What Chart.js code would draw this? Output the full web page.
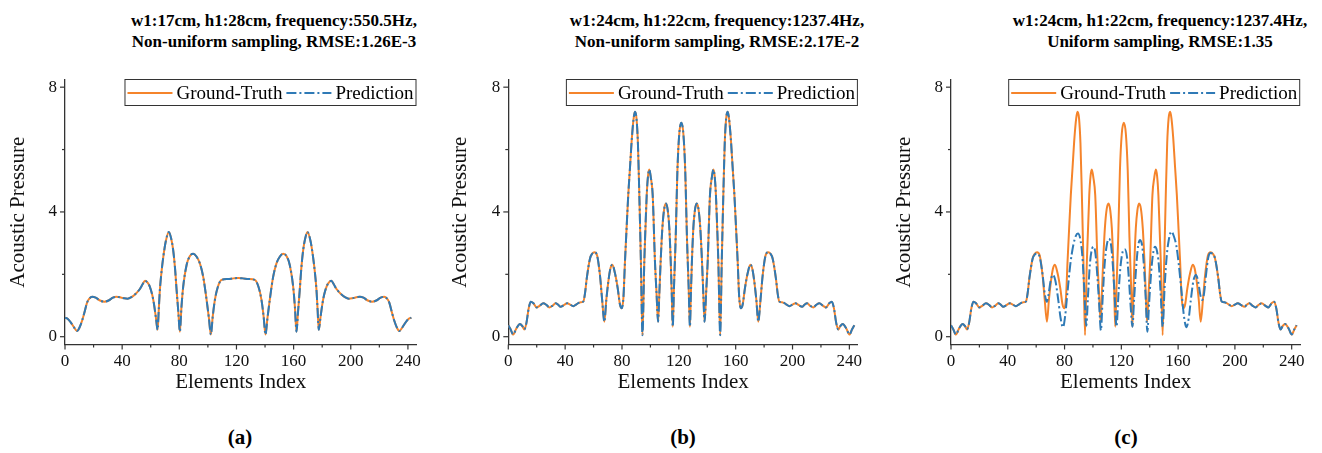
<!DOCTYPE html>
<html>
<head>
<meta charset="utf-8">
<script src="https://cdn.jsdelivr.net/npm/chart.js@4/dist/chart.umd.min.js"></script>
<style>
html,body{margin:0;padding:0;background:#fff;}
body{width:1322px;height:453px;position:relative;overflow:hidden;font-family:"Liberation Serif","Times New Roman",serif;color:#000;}
.title{position:absolute;top:10px;width:440px;text-align:center;font-weight:bold;font-size:17px;line-height:21px;white-space:nowrap;}
.cap{position:absolute;top:425px;width:100px;text-align:center;font-weight:bold;font-size:21px;line-height:24px;}
.wrap{position:absolute;top:70px;height:330px;}
canvas{display:block;}
</style>
</head>
<body>
<div class="title" style="left:54px">w1:17cm, h1:28cm, frequency:550.5Hz,<br>Non-uniform sampling, RMSE:1.26E-3</div>
<div class="title" style="left:497px">w1:24cm, h1:22cm, frequency:1237.4Hz,<br>Non-uniform sampling, RMSE:2.17E-2</div>
<div class="title" style="left:940px">w1:24cm, h1:22cm, frequency:1237.4Hz,<br>Uniform sampling, RMSE:1.35</div>

<div class="wrap" style="left:0;width:440px"><canvas id="ca" width="440" height="330"></canvas></div>
<div class="wrap" style="left:440px;width:440px"><canvas id="cb" width="440" height="330"></canvas></div>
<div class="wrap" style="left:880px;width:442px"><canvas id="cc" width="442" height="330"></canvas></div>

<div class="cap" style="left:190px">(a)</div>
<div class="cap" style="left:633px">(b)</div>
<div class="cap" style="left:1076px">(c)</div>

<script>
// ---- data: [element index, acoustic pressure] ----
const seriesLabels = ['Ground-Truth', 'Prediction'];
const xTicks = [0, 40, 80, 120, 160, 200, 240];
const yTicks = [0, 4, 8];

// (a) w1:17cm, h1:28cm, 550.5Hz — prediction overlays ground truth
const gtA = [[0,0.61],[2,0.57],[4,0.46],[6,0.32],[8.5,0.18],[10,0.28],[12,0.52],[13.5,0.76],[15.5,1.10],[17,1.22],[19,1.28],[21.5,1.25],[24.5,1.16],[27.5,1.12],[30.5,1.16],[33.5,1.25],[36,1.28],[39,1.26],[41.5,1.23],[43.8,1.22],[46.5,1.27],[49.5,1.38],[52.4,1.53],[54.3,1.68],[56,1.79],[57.8,1.73],[59.4,1.60],[61,1.35],[62.2,1.07],[63.6,0.62],[64.8,0.22],[65.6,0.85],[66.4,1.50],[67.6,2.10],[68.8,2.56],[70.5,3.05],[72.7,3.36],[74.3,3.15],[75.7,2.78],[77,2.20],[78.1,1.50],[79.3,0.80],[80.4,0.16],[81.5,0.95],[82.7,1.60],[85.1,2.30],[87.3,2.58],[89.7,2.66],[92,2.57],[94.4,2.35],[96.8,1.90],[99.1,1.18],[100.7,0.60],[102.1,0.07],[103.4,0.65],[104.9,1.18],[107,1.60],[109.6,1.82],[114,1.85],[118,1.87],[121.2,1.88],[124.4,1.87],[128.4,1.85],[132.8,1.82],[135.4,1.60],[137.5,1.18],[139,0.65],[140.3,0.07],[141.7,0.60],[143.3,1.18],[145.6,1.90],[148,2.35],[150.4,2.57],[152.7,2.66],[155.1,2.58],[157.3,2.30],[159.7,1.60],[160.9,0.95],[162,0.16],[163.1,0.80],[164.3,1.50],[165.4,2.20],[166.7,2.78],[168.1,3.15],[169.7,3.36],[171.9,3.05],[173.6,2.56],[174.8,2.10],[176,1.50],[176.8,0.85],[177.6,0.22],[178.8,0.62],[180.2,1.07],[181.4,1.35],[183,1.60],[184.6,1.73],[186.4,1.79],[188.1,1.68],[190,1.53],[192.9,1.38],[195.9,1.27],[198.6,1.22],[200.9,1.23],[203.4,1.26],[206.4,1.28],[208.9,1.25],[211.9,1.16],[214.9,1.12],[217.9,1.16],[220.9,1.25],[223.4,1.28],[225.4,1.22],[226.9,1.10],[228.9,0.76],[230.4,0.52],[232.4,0.28],[233.9,0.18],[236.4,0.32],[238.4,0.46],[240.4,0.57],[242.4,0.61]];
const predA = gtA;

// (b)/(c) w1:24cm, h1:22cm, 1237.4Hz — ground truth
const gtB = [[0,0.37],[1.5,0.25],[3.5,0.07],[5.5,0.25],[8.2,0.41],[10,0.33],[11.3,0.23],[12.8,0.45],[14.3,0.90],[15.8,1.12],[17.5,1.08],[19.9,0.94],[22,0.99],[24.6,1.07],[26.8,1.02],[28.9,0.94],[31,0.99],[33.3,1.07],[35,1.03],[36.8,0.96],[39,1.01],[41.5,1.07],[43.5,1.03],[45.7,0.98],[48,1.04],[50.4,1.10],[52.8,1.13],[54,1.40],[55.2,1.87],[57.5,2.51],[59,2.66],[60.6,2.71],[62.5,2.60],[64.5,1.97],[66,1.20],[67.6,0.48],[69,1.20],[70.4,1.77],[71.8,2.18],[73.2,2.31],[75,2.05],[77,1.55],[78.5,1.05],[79.8,0.91],[81,1.25],[82.1,2.41],[83.2,3.45],[84.4,4.54],[85.6,5.40],[87,6.40],[88.2,7.00],[89.1,7.21],[90.2,7.00],[91.2,6.20],[92.2,4.54],[93.3,2.41],[94.4,0.05],[95.7,2.41],[97.4,4.54],[98.3,5.15],[99.2,5.36],[100.3,5.10],[101.6,4.54],[103.2,2.41],[104.3,1.40],[105.4,0.48],[106.3,1.40],[107.2,2.41],[108.4,3.48],[109.7,4.10],[111,4.27],[112.2,4.05],[113.3,3.48],[114.3,2.41],[115,1.40],[115.7,0.32],[116.6,1.60],[117.8,3.20],[119,5.33],[120.3,6.50],[121.75,6.86],[123.2,6.50],[124.5,5.33],[125.7,3.20],[126.9,1.60],[127.8,0.32],[128.5,1.40],[129.2,2.41],[130.2,3.48],[131.3,4.05],[132.5,4.27],[133.8,4.10],[135.1,3.48],[136.3,2.41],[137.2,1.40],[138.1,0.48],[139.2,1.40],[140.3,2.41],[141.9,4.54],[143.2,5.10],[144.3,5.36],[145.2,5.15],[146.1,4.54],[147.8,2.41],[149.1,0.05],[150.2,2.41],[151.3,4.54],[152.3,6.20],[153.3,7.00],[154.4,7.21],[155.3,7.00],[156.5,6.40],[157.9,5.40],[159.1,4.54],[160.3,3.45],[161.4,2.41],[162.5,1.25],[163.7,0.91],[165,1.05],[166.5,1.55],[168.5,2.05],[170.3,2.31],[171.7,2.18],[173.1,1.77],[174.5,1.20],[175.9,0.48],[177.5,1.20],[179,1.97],[181,2.60],[182.9,2.71],[184.5,2.66],[186,2.51],[188.3,1.87],[189.5,1.40],[190.7,1.13],[193.1,1.10],[195.5,1.04],[197.8,0.98],[200,1.03],[202,1.07],[204.5,1.01],[206.7,0.96],[208.5,1.03],[210.2,1.07],[212.5,0.99],[214.6,0.94],[216.7,1.02],[218.9,1.07],[221.5,0.99],[223.6,0.94],[226,1.08],[227.7,1.12],[229.2,0.90],[230.7,0.45],[232.2,0.23],[233.5,0.33],[235.3,0.41],[238,0.25],[240,0.07],[242,0.25],[243.5,0.37]];
const predB = gtB;

// (c) same ground truth, prediction with uniform sampling
const gtC = gtB;
const predC = [[0,0.37],[1.5,0.25],[3.5,0.07],[5.5,0.25],[8.2,0.41],[10,0.33],[11.3,0.23],[12.8,0.45],[14.3,0.90],[15.8,1.12],[17.5,1.08],[19.9,0.94],[22,0.99],[24.6,1.07],[26.8,1.02],[28.9,0.94],[31,0.99],[33.3,1.07],[35,1.03],[36.8,0.96],[39,1.01],[41.5,1.07],[43.5,1.03],[45.7,0.98],[48,1.04],[50.4,1.10],[52.8,1.13],[54,1.40],[55.2,1.87],[57.5,2.50],[59,2.63],[60.8,2.67],[62.5,2.55],[64.5,2.00],[66,1.40],[67.4,1.12],[68.7,1.35],[70,1.75],[71.8,1.98],[73.5,1.80],[75.5,1.20],[77.2,0.60],[78.9,0.30],[80.5,0.70],[82,1.40],[84,2.30],[86,2.90],[87.8,3.22],[89.4,3.31],[91,3.15],[92.5,2.60],[93.8,1.60],[95.3,0.35],[96.5,1.30],[97.8,2.30],[99,2.75],[100.4,2.89],[101.8,2.65],[103,2.00],[104.3,1.10],[105.6,0.20],[106.8,1.20],[108.2,2.30],[109.6,2.90],[111.2,3.14],[112.7,2.95],[114,2.30],[115.3,1.30],[116.6,0.32],[117.9,1.30],[119.3,2.20],[120.8,2.70],[122.4,2.80],[124,2.55],[125.4,1.80],[126.6,0.95],[127.8,0.32],[129,1.20],[130.4,2.20],[131.8,2.90],[133.2,3.10],[134.7,2.90],[136,2.20],[137.2,1.20],[138.3,0.16],[139.6,1.10],[140.9,2.00],[142.3,2.65],[143.7,2.88],[145.1,2.75],[146.4,2.30],[147.8,1.30],[149.1,0.32],[150.5,1.60],[152,2.60],[153.6,3.15],[155.3,3.37],[157,3.22],[158.8,2.90],[160.5,2.30],[162.5,1.40],[164,0.70],[165.8,0.30],[167.5,0.60],[169,1.20],[170.8,1.80],[172.6,1.98],[174.2,1.75],[175.6,1.35],[177,1.18],[178.3,1.40],[179.7,2.00],[181.3,2.55],[182.9,2.68],[184.5,2.65],[186,2.51],[188.3,1.87],[189.5,1.40],[190.7,1.13],[193.1,1.10],[195.5,1.04],[197.8,0.98],[200,1.03],[202,1.07],[204.5,1.01],[206.7,0.96],[208.5,1.03],[210.2,1.07],[212.5,0.99],[214.6,0.94],[216.7,1.02],[218.9,1.07],[221.5,0.99],[223.6,0.94],[226,1.08],[227.7,1.12],[229.2,0.90],[230.7,0.45],[232.2,0.23],[233.5,0.33],[235.3,0.41],[238,0.25],[240,0.07],[242,0.25],[243.5,0.37]];

// ---- styling ----
const FONT = '"Liberation Serif", "Times New Roman", serif';
const ORANGE = '#f5842b';
const BLUE = '#2f7ab6';
const AXIS = '#333333';

const tickMarks = {
  id: 'tickMarks',
  afterDraw(chart) {
    const ctx = chart.ctx, xs = chart.scales.x, ys = chart.scales.y;
    ctx.save();
    ctx.strokeStyle = AXIS; ctx.lineWidth = 1.2;
    xs.ticks.forEach(t => {
      const px = xs.getPixelForValue(t.value);
      const len = xTicks.includes(t.value) ? 5 : 3;
      ctx.beginPath(); ctx.moveTo(px, xs.top); ctx.lineTo(px, xs.top + len); ctx.stroke();
    });
    ys.ticks.forEach(t => {
      const py = ys.getPixelForValue(t.value);
      const len = yTicks.includes(t.value) ? 5 : 3;
      ctx.beginPath(); ctx.moveTo(ys.right, py); ctx.lineTo(ys.right - len, py); ctx.stroke();
    });
    ctx.restore();
  }
};

const boxLegend = {
  id: 'boxLegend',
  afterDraw(chart) {
    const ctx = chart.ctx, ca = chart.chartArea, ds = chart.data.datasets;
    ctx.save();
    ctx.font = '19px ' + FONT;
    const pad = 3, lineW = 45, gap = 4, h = 27;
    const widths = ds.map(d => ctx.measureText(d.label).width);
    let total = pad * 2;
    widths.forEach((w, i) => { total += lineW + gap + w + (i < ds.length - 1 ? gap : 0); });
    const left = ca.right - total, top = ca.top - 1;
    ctx.fillStyle = '#fff'; ctx.fillRect(left, top, total, h);
    ctx.strokeStyle = AXIS; ctx.lineWidth = 1;
    ctx.strokeRect(left + 0.5, top + 0.5, total - 1, h - 1);
    let x = left + pad; const cy = top + 14;
    ds.forEach((d, i) => {
      ctx.strokeStyle = d.borderColor; ctx.lineWidth = d.borderWidth;
      ctx.setLineDash(d.borderDash || []);
      ctx.beginPath(); ctx.moveTo(x, cy); ctx.lineTo(x + lineW, cy); ctx.stroke();
      ctx.setLineDash([]);
      x += lineW + gap;
      ctx.fillStyle = '#000'; ctx.textBaseline = 'middle'; ctx.textAlign = 'left';
      ctx.fillText(d.label, x, cy + 1);
      x += widths[i] + gap;
    });
    ctx.restore();
  }
};

function makeChart(id, gt, pred, yAxisW, padRight, yTitlePad) {
  return new Chart(document.getElementById(id), {
    type: 'line',
    data: {
      datasets: [
        { label: seriesLabels[0], data: gt.map(p => ({ x: p[0], y: p[1] })), borderColor: ORANGE, borderWidth: 2,
          pointRadius: 0, fill: false, cubicInterpolationMode: 'monotone', order: 2 },
        { label: seriesLabels[1], data: pred.map(p => ({ x: p[0], y: p[1] })), borderColor: BLUE, borderWidth: 2,
          borderDash: [10, 3, 2, 3], pointRadius: 0, fill: false, cubicInterpolationMode: 'monotone', order: 1 }
      ]
    },
    options: {
      responsive: false, animation: false, devicePixelRatio: 1,
      layout: { padding: { top: 10, right: padRight, bottom: 0, left: 0 } },
      plugins: { legend: { display: false }, tooltip: { enabled: false } },
      elements: { line: { tension: 0 } },
      scales: {
        x: {
          type: 'linear', min: 0, max: 246,
          afterFit(s) { s.height = 55.5; s.paddingLeft = 0; s.paddingRight = 0; },
          grid: { display: false, drawTicks: false },
          border: { display: true, color: AXIS, width: 1.3 },
          ticks: { stepSize: 20, includeBounds: false, autoSkip: false, maxRotation: 0, padding: 7, color: '#111',
                   font: { family: FONT, size: 17 }, callback: v => xTicks.includes(v) ? String(v) : '' },
          title: { display: true, text: 'Elements Index', color: '#111', font: { family: FONT, size: 21, lineHeight: 1.2 },
                   padding: { top: 0, bottom: 5.4 } }
        },
        y: {
          type: 'linear', min: -0.25, max: 8.23,
          afterFit(s) { s.width = yAxisW; s.paddingTop = 0; s.paddingBottom = 0; },
          grid: { display: false, drawTicks: false },
          border: { display: true, color: AXIS, width: 1.3 },
          ticks: { stepSize: 2, includeBounds: false, autoSkip: false, padding: 8, color: '#111',
                   font: { family: FONT, size: 17 }, callback: v => yTicks.includes(v) ? String(v) : '' },
          title: { display: true, text: 'Acoustic Pressure', color: '#111', font: { family: FONT, size: 21, lineHeight: 1.2 },
                   padding: { top: yTitlePad, bottom: 0 } }
        }
      }
    },
    plugins: [tickMarks, boxLegend]
  });
}

makeChart('ca', gtA, predA, 65, 23.5, 6);
makeChart('cb', gtB, predB, 68.3, 22.1, 8);
makeChart('cc', gtC, predC, 71, 21.8, 12);
</script>
</body>
</html>
